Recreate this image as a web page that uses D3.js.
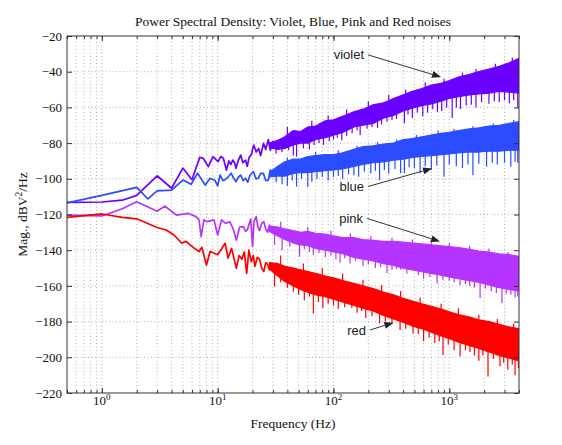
<!DOCTYPE html>
<html>
<head>
<meta charset="utf-8">
<script src="https://cdn.jsdelivr.net/npm/d3@7"></script>
<style>
  body { margin: 0; background: #fff; }
</style>
</head>
<body>
<svg id="chart" width="562" height="445"></svg>
<script>
// values: frequency in Hz, magnitude in dBV^2/Hz

// low frequency part, where the single points can still be seen
var violetLine = [[0.5,-113.2],[1,-113],[1.5,-112],[2,-109.3],[3,-98.3],[4,-105.3],[5,-94],[6,-100.5],[7,-88],[7.5,-88.5],[8.3,-93.2],[9.1,-87.6],[10.1,-90.4],[10.6,-87.5],[11.2,-88.5],[11.9,-95.1],[12.5,-90],[13,-92],[13.5,-89.5],[14,-91],[14.4,-94.1],[15,-90],[15.8,-86.7],[16.5,-91],[17.4,-89.5],[18,-93],[18.7,-88],[19.5,-86.5],[20.5,-81.1],[21.5,-85],[22.6,-83],[23.5,-87],[24.9,-80.1],[26,-83.5],[27.4,-78],[28.5,-84],[30,-79]];
var blueLine = [[0.5,-113.5],[1,-109.3],[2,-104.8],[2.5,-111.3],[3,-106.8],[4,-106.3],[5,-100.7],[5.9,-103.1],[6.7,-96.9],[7.8,-103.5],[8.6,-99.7],[9.5,-101],[10,-104],[10.5,-97.9],[11.1,-101],[11.6,-100.5],[12.3,-99],[13.1,-96.9],[13.7,-99.5],[14.4,-101.6],[15.1,-99],[15.8,-97.9],[16.6,-101],[17.4,-99.7],[18.2,-102],[19,-98],[20.4,-96],[21.4,-100],[22.4,-99.7],[23.5,-97],[24.8,-96.9],[26,-101],[27.4,-100.7],[28.5,-95],[30,-98]];
var pinkLine = [[0.5,-120.3],[1,-120.8],[1.5,-116.8],[2,-112.8],[3,-118.2],[3.5,-115.3],[4.4,-120.3],[5.6,-119.4],[6.5,-121.2],[6.9,-123],[7.2,-132.4],[7.6,-123],[8.1,-124],[9.3,-123],[10,-131.5],[10.8,-123],[11.7,-125],[12.7,-124],[13.6,-128],[14.5,-134.3],[15.5,-127],[16.7,-126.8],[17.4,-129.5],[18,-128.7],[19.3,-122.5],[20,-138],[20.6,-124],[21.5,-121.2],[22.3,-127],[23,-129],[24,-125],[25,-124],[26,-128],[27,-130],[28,-126],[29.5,-129]];
var redLine = [[0.5,-121.6],[1,-119.7],[1.5,-121.6],[2,-122.4],[3,-127.3],[3.6,-128.7],[4.2,-131.5],[4.9,-136.1],[5.3,-135],[6.3,-139],[6.9,-140.7],[7.3,-138.3],[8,-148.3],[8.6,-140.7],[10,-142.5],[11.6,-136.1],[12.3,-144.4],[13.2,-139],[14.5,-150.2],[15.3,-143],[16.2,-145],[17,-141],[17.8,-153],[18.6,-140],[19.5,-146.4],[20.3,-143],[21,-149],[22,-144],[23,-145],[24,-150],[25,-152],[26,-147],[27,-148],[28,-151],[29.5,-147]];

// high frequency part: the dense band (upper and lower edge)
var bandFreq     = [28, 33, 38, 45, 52, 60, 70, 85, 100, 120, 150, 180, 220, 270, 330, 400, 480, 580, 700, 850, 1000, 1200, 1500, 1800, 2200, 2700, 3300, 4000];
var violetTop    = [-80, -78.5, -76.5, -73, -73.5, -71, -70.5, -67.5, -67, -65, -62.5, -61, -58.5, -57.5, -55, -53, -51, -49.5, -47.5, -46.5, -45, -43, -41.5, -40, -38.5, -37, -35, -32.5];
var violetBottom = [-82.5, -83.5, -83, -81, -80, -80, -78, -77, -75.5, -74, -71, -70, -69, -66, -64.5, -62, -60.5, -59, -58, -56.5, -55, -54, -53, -52.5, -52, -51, -51.5, -52];
var blueTop      = [-96.5, -93, -90.5, -89, -89, -87.5, -87, -86.5, -86.5, -85.5, -83.5, -82, -81.5, -80.5, -80, -78, -77.5, -76.5, -75.5, -74.5, -74, -73, -72, -71.5, -70.5, -70, -69, -68];
var blueBottom   = [-99, -98.5, -98.5, -97, -96.5, -96.5, -96, -95.5, -95, -94.5, -93, -92, -91, -90.5, -89.5, -89, -88, -87.5, -87, -86.5, -86, -85.5, -85, -85, -84.5, -84.5, -84, -84];
var pinkTop      = [-126.5, -127, -128, -129, -130, -129.5, -130.5, -131, -132, -133, -133, -134, -134.5, -135, -135, -135.5, -136, -136.5, -137, -137.5, -138, -138.5, -139.5, -140.5, -141, -142, -142.5, -143.5];
var pinkBottom   = [-129.5, -132, -134, -136, -137, -137.5, -139, -140, -141, -142, -144, -145, -146, -147.5, -148.5, -150, -151, -152, -153, -154, -155, -156, -157, -158, -159.5, -161, -162, -163];
var redTop       = [-147, -147.5, -149, -150, -151, -152, -153, -154.5, -155.5, -157, -158.5, -160, -161.5, -163.5, -165, -167, -168.5, -170, -171.5, -173, -174.5, -176, -177.5, -179, -180, -181.5, -183, -184];
var redBottom    = [-150.5, -154.5, -157.5, -160, -162, -163.5, -165, -166, -167.5, -169, -171, -172.5, -174, -176.5, -178.5, -180.5, -182.5, -184, -186, -188, -189.5, -191.5, -193.5, -195, -197, -199, -200.5, -202];

// drops below the band
var violetSpikes = [[32,-86],[36,-85],[41,-84],[45,-87],[48,-87.6],[55,-83],[62,-83.5],[68,-81],[75,-80],[82,-81],[92,-79],[100,-78],[108,-77],[118,-78.5],[130,-76],[145,-74.5],[160,-73],[170,-75.5],[195,-72],[215,-71],[240,-71.5],[260,-69.5],[290,-68],[320,-67],[350,-66.5],[410,-68.9],[440,-64],[480,-66],[530,-63],[590,-65],[650,-63],[720,-61],[790,-62.5],[860,-62],[950,-60],[1060,-66],[1150,-60],[1250,-61],[1400,-59],[1550,-58.5],[1700,-60],[1900,-57],[2200,-58],[2450,-56.5],[2700,-57],[3000,-56],[3300,-57.7],[3600,-56],[3900,-60]];
var blueSpikes = [[32,-102],[36,-103],[40,-104],[44,-101],[48,-104.4],[53,-100],[60,-104.4],[65,-101.6],[72,-100],[80,-99],[90,-101],[100,-99],[110,-98.5],[120,-100],[135,-97.5],[150,-98],[165,-98.8],[185,-96],[210,-97],[230,-95.5],[250,-100.7],[275,-95],[300,-97],[340,-94.5],[380,-96.9],[410,-96.9],[450,-93.5],[500,-94],[560,-96.9],[620,-93],[700,-95],[780,-92.5],[900,-98.8],[1000,-92],[1150,-93],[1300,-94],[1450,-92],[1600,-98],[1800,-91.5],[2100,-93.2],[2350,-91],[2600,-92],[3000,-91],[3400,-93.2],[3700,-90.5],[3900,-91]];
var pinkSpikes = [[31,-137],[36,-140],[42,-138],[51,-143.6],[56,-139.5],[62,-141],[67,-142.7],[75,-141.5],[85,-144],[95,-143],[105,-145],[114,-147],[125,-144.5],[139,-147.4],[155,-146],[180,-149],[200,-148],[230,-150],[255,-149.5],[290,-152.8],[320,-151],[350,-150.5],[380,-151],[430,-153],[486,-151],[540,-154],[600,-156],[680,-155],[784,-158.6],[880,-156.5],[1000,-157],[1100,-158],[1240,-159.6],[1380,-159],[1500,-160],[1650,-161],[1845,-166.8],[2050,-161.5],[2300,-163],[2550,-164],[2850,-169.6],[3100,-164.5],[3400,-165],[3700,-166.5],[3900,-166]];
var redSpikes = [[31,-160.4],[35,-158],[40,-161],[45,-163.3],[50,-165],[56,-168],[62,-166],[67,-175.4],[74,-169],[81,-172.4],[90,-170],[100,-171],[110,-173],[125,-172],[144,-172.4],[160,-175],[175,-174],[190,-178],[215,-177],[250,-181],[280,-180],[320,-181.5],[376,-184.7],[420,-184],[486,-186.6],[540,-187],[600,-191],[670,-189],[750,-192],[820,-191],[883,-198.7],[980,-193],[1100,-196],[1240,-199.6],[1380,-196],[1510,-197],[1650,-199],[1800,-202],[1950,-199],[2160,-210.8],[2400,-201],[2740,-205],[2950,-203],[3200,-207],[3500,-204],[3700,-210],[3950,-206]];

// short peaks above the band
var violetPeaks = [[40,-71],[65,-67.5],[90,-64.5],[130,-61],[200,-56.5],[300,-53],[420,-50],[620,-46],[900,-44],[1300,-40.5],[1700,-38.5],[2500,-35.5],[3500,-32]];
var bluePeaks = [[40,-88],[70,-85],[110,-84],[160,-81.5],[240,-79.5],[350,-78],[520,-75.5],[800,-73],[1100,-72],[1600,-70.5],[2400,-69],[3600,-67]];
var pinkPeaks = [[35,-124],[60,-127],[95,-129],[140,-130.5],[210,-132],[320,-133],[480,-134],[700,-135],[1000,-136],[1500,-137.5],[2200,-139],[3200,-141]];
var redPeaks = [[35,-143],[55,-147.5],[80,-150],[120,-153],[180,-156.5],[260,-159.5],[380,-163],[560,-166.5],[850,-170],[1200,-172.5],[1800,-176],[2600,-178.5],[3600,-181]];

// axes
var xDomain = [0.5, 4000];
var yDomain = [-220, -20];
var yTicks = [-220, -200, -180, -160, -140, -120, -100, -80, -60, -40, -20];
var xTicks = [1, 10, 100, 1000];
var xTickExp = ["0", "1", "2", "3"];

// annotations: text, arrow start [Hz, dB], arrow end [Hz, dB]
var noteText = ["violet", "blue", "pink", "red"];
var noteFrom = [[199,-30.6],[199,-104.3],[195,-122.2],[207,-184.7]];
var noteTo   = [[849,-43],[710,-94.2],[832,-135.1],[329,-180.6]];

var series = [
  { name: "violet", color: "#6a00ff", line: violetLine, top: violetTop, bottom: violetBottom, spikes: violetSpikes, peaks: violetPeaks },
  { name: "blue",   color: "#2b4cff", line: blueLine,   top: blueTop,   bottom: blueBottom,   spikes: blueSpikes,   peaks: bluePeaks },
  { name: "pink",   color: "#b634ff", line: pinkLine,   top: pinkTop,   bottom: pinkBottom,   spikes: pinkSpikes,   peaks: pinkPeaks },
  { name: "red",    color: "#ff0000", line: redLine,    top: redTop,    bottom: redBottom,    spikes: redSpikes,    peaks: redPeaks }
];

var margin = { left: 67, top: 36, right: 43, bottom: 52 };
var width = 562, height = 445;
var serif = "'Liberation Serif', 'Times New Roman', serif";
var sans = "'Liberation Sans', Arial, Helvetica, sans-serif";

var svg = d3.select("#chart");
var x = d3.scaleLog().domain(xDomain).range([margin.left, width - margin.right]);
var y = d3.scaleLinear().domain(yDomain).range([height - margin.bottom, margin.top]);

svg.append("defs").append("clipPath").attr("id", "plot-clip")
  .append("rect")
  .attr("x", x.range()[0]).attr("y", y.range()[1])
  .attr("width", x.range()[1] - x.range()[0])
  .attr("height", y.range()[0] - y.range()[1]);

// dotted grid
var grid = svg.append("g").attr("stroke", "#a0a0a0").attr("stroke-width", 0.8).attr("stroke-dasharray", "1,2.5");
grid.selectAll(".gx").data(x.ticks().filter(function (d) { return d > xDomain[0] && d < xDomain[1]; }))
  .enter().append("line")
  .attr("x1", function (d) { return x(d); }).attr("x2", function (d) { return x(d); })
  .attr("y1", y.range()[0]).attr("y2", y.range()[1]);
grid.selectAll(".gy").data(yTicks.slice(1, -1))
  .enter().append("line")
  .attr("y1", function (d) { return y(d); }).attr("y2", function (d) { return y(d); })
  .attr("x1", x.range()[0]).attr("x2", x.range()[1]);

// the four spectra
var plot = svg.append("g").attr("clip-path", "url(#plot-clip)");
var lineGen = d3.line().x(function (d) { return x(d[0]); }).y(function (d) { return y(d[1]); });

series.forEach(function (s) {
  var g = plot.append("g").attr("class", "series-" + s.name);
  var area = d3.area()
    .x(function (d, i) { return x(bandFreq[i]); })
    .y0(function (d, i) { return y(s.bottom[i]); })
    .y1(function (d, i) { return y(s.top[i]); });
  g.append("path").datum(bandFreq).attr("d", area)
    .attr("fill", s.color).attr("stroke", s.color).attr("stroke-width", 1.2)
    .attr("stroke-linejoin", "round");

  // middle of the band, where spikes and peaks start
  var mid = d3.scaleLog().domain(bandFreq)
    .range(bandFreq.map(function (f, i) { return (s.top[i] + s.bottom[i]) / 2; }));
  g.selectAll(".spike").data(s.spikes.concat(s.peaks)).enter().append("line")
    .attr("x1", function (d) { return x(d[0]); }).attr("x2", function (d) { return x(d[0]); })
    .attr("y1", function (d) { return y(mid(d[0])); })
    .attr("y2", function (d) { return y(d[1]); })
    .attr("stroke", s.color).attr("stroke-width", 1.2);

  g.append("path").datum(s.line).attr("d", lineGen)
    .attr("fill", "none").attr("stroke", s.color)
    .attr("stroke-width", 1.7).attr("stroke-linejoin", "round");
});

// axes: ticks point inward on all four sides
var axisColor = "#333";
function styleAxis(g) {
  g.select(".domain").remove();
  g.selectAll(".tick line").attr("stroke", axisColor);
}
svg.append("g").attr("transform", "translate(0," + y.range()[0] + ")")
  .call(d3.axisBottom(x).tickValues(xTicks).tickSize(-5).tickFormat(""))
  .call(styleAxis);
svg.append("g").attr("transform", "translate(0," + y.range()[0] + ")")
  .call(d3.axisBottom(x).tickValues(x.ticks()).tickSize(-3).tickFormat(""))
  .call(styleAxis);
svg.append("g").attr("transform", "translate(0," + y.range()[1] + ")")
  .call(d3.axisTop(x).tickValues(xTicks).tickSize(-5).tickFormat(""))
  .call(styleAxis);
svg.append("g").attr("transform", "translate(0," + y.range()[1] + ")")
  .call(d3.axisTop(x).tickValues(x.ticks()).tickSize(-3).tickFormat(""))
  .call(styleAxis);

var yAxis = svg.append("g").attr("transform", "translate(" + x.range()[0] + ",0)")
  .call(d3.axisLeft(y).tickValues(yTicks).tickSize(-5).tickPadding(5))
  .call(styleAxis);
yAxis.selectAll(".tick text").attr("font-family", serif).attr("font-size", 13).attr("fill", "#111");
svg.append("g").attr("transform", "translate(" + x.range()[1] + ",0)")
  .call(d3.axisRight(y).tickValues(yTicks).tickSize(-5).tickFormat(""))
  .call(styleAxis);

svg.append("rect")
  .attr("x", x.range()[0]).attr("y", y.range()[1])
  .attr("width", x.range()[1] - x.range()[0])
  .attr("height", y.range()[0] - y.range()[1])
  .attr("fill", "none").attr("stroke", axisColor).attr("stroke-width", 1);

// x tick labels as powers of ten
var xl = svg.append("g").attr("font-family", serif).attr("fill", "#111");
xTicks.forEach(function (t, i) {
  var txt = xl.append("text").attr("x", x(t)).attr("y", y.range()[0] + 12)
    .attr("text-anchor", "middle").attr("font-size", 13);
  txt.append("tspan").text("10");
  txt.append("tspan").attr("dy", -5).attr("font-size", 9).text(xTickExp[i]);
});

// titles
svg.append("text").attr("x", (x.range()[0] + x.range()[1]) / 2).attr("y", 26)
  .attr("text-anchor", "middle").attr("font-family", serif).attr("font-size", 13.5).attr("fill", "#111")
  .text("Power Spectral Density: Violet, Blue, Pink and Red noises");
svg.append("text").attr("x", (x.range()[0] + x.range()[1]) / 2).attr("y", 428)
  .attr("text-anchor", "middle").attr("font-family", serif).attr("font-size", 13.5).attr("fill", "#111")
  .text("Frequency (Hz)");
var ylab = svg.append("text")
  .attr("transform", "translate(27," + ((y.range()[0] + y.range()[1]) / 2) + ") rotate(-90)")
  .attr("text-anchor", "middle").attr("font-family", serif).attr("font-size", 13.5).attr("fill", "#111");
ylab.append("tspan").text("Mag., dBV");
ylab.append("tspan").attr("dy", -5).attr("font-size", 9.5).text("2");
ylab.append("tspan").attr("dy", 5).text("/Hz");

// labels with arrows
var notes = svg.append("g");
noteText.forEach(function (t, i) {
  var x0 = x(noteFrom[i][0]), y0 = y(noteFrom[i][1]);
  var x1 = x(noteTo[i][0]), y1 = y(noteTo[i][1]);
  notes.append("text").attr("x", x0 - 4).attr("y", y0).attr("dy", "0.35em")
    .attr("text-anchor", "end").attr("font-family", sans).attr("font-size", 13).attr("fill", "#222")
    .text(t);
  var ang = Math.atan2(y1 - y0, x1 - x0), len = 9, half = 3.5;
  var bx = x1 - len * Math.cos(ang), by = y1 - len * Math.sin(ang);
  notes.append("line").attr("x1", x0).attr("y1", y0).attr("x2", bx).attr("y2", by)
    .attr("stroke", "#333").attr("stroke-width", 1);
  notes.append("path")
    .attr("d", "M" + x1 + "," + y1 +
      "L" + (bx + half * Math.sin(ang)) + "," + (by - half * Math.cos(ang)) +
      "L" + (bx - half * Math.sin(ang)) + "," + (by + half * Math.cos(ang)) + "Z")
    .attr("fill", "#222");
});
</script>
</body>
</html>
